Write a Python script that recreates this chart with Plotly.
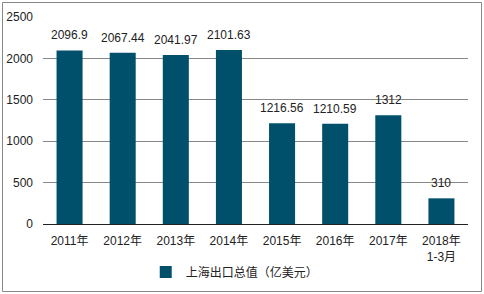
import plotly.graph_objects as go

categories = ["2011年", "2012年", "2013年", "2014年", "2015年", "2016年", "2017年", "2018年<br>1-3月"]
values = [2096.9, 2067.44, 2041.97, 2101.63, 1216.56, 1210.59, 1312, 310]
labels = ["2096.9", "2067.44", "2041.97", "2101.63", "1216.56", "1210.59", "1312", "310"]
series_name = "上海出口总值（亿美元）"
y_ticks = [0, 500, 1000, 1500, 2000, 2500]

FONT = "Liberation Sans, Arial, Noto Sans CJK SC, sans-serif"
BAR = "#01506B"

fig = go.Figure(go.Bar(
    x=categories, y=values, name=series_name,
    marker=dict(color=BAR, line=dict(width=0)),
))

for c, v, t in zip(categories, values, labels):
    fig.add_annotation(x=c, y=v, text=t, showarrow=False, yanchor="bottom",
                       yshift=6, font=dict(size=12, color="#222222", family=FONT))

W, H = 484, 294
L, R, T, B = 43, 16, 17, 70
pw, ph = W - L - R, H - T - B

fig.update_layout(
    width=W, height=H,
    margin=dict(l=L, r=R, t=T, b=B),
    paper_bgcolor="white", plot_bgcolor="white",
    bargap=0.51,
    showlegend=True,
    legend=dict(orientation="h", x=0.485, xanchor="center", xref="container",
                y=1 - 272/H, yanchor="middle", yref="container",
                font=dict(size=12, color="#222222", family=FONT)),
    font=dict(family=FONT, size=12, color="#222222"),
    xaxis=dict(showgrid=False, showline=True, linecolor="#222222", linewidth=1,
               ticks="", tickfont=dict(size=12, color="#222222"), ticklabelstandoff=6,
               automargin=False),
    yaxis=dict(range=[0, 2500], tickvals=y_ticks, showgrid=True, gridcolor="#888888",
               gridwidth=1, zeroline=False, showline=False, ticks="",
               tickfont=dict(size=12, color="#222222"), ticklabelstandoff=9,
               automargin=False),
    shapes=[dict(type="rect", xref="paper", yref="paper",
                 x0=(2.5 - L)/pw, x1=(481.5 - L)/pw,
                 y0=(H - B - 291.5)/ph, y1=(H - B - 2.5)/ph,
                 line=dict(color="#888888", width=1), fillcolor="rgba(0,0,0,0)", layer="below")],
)

fig.write_html("out.html")
